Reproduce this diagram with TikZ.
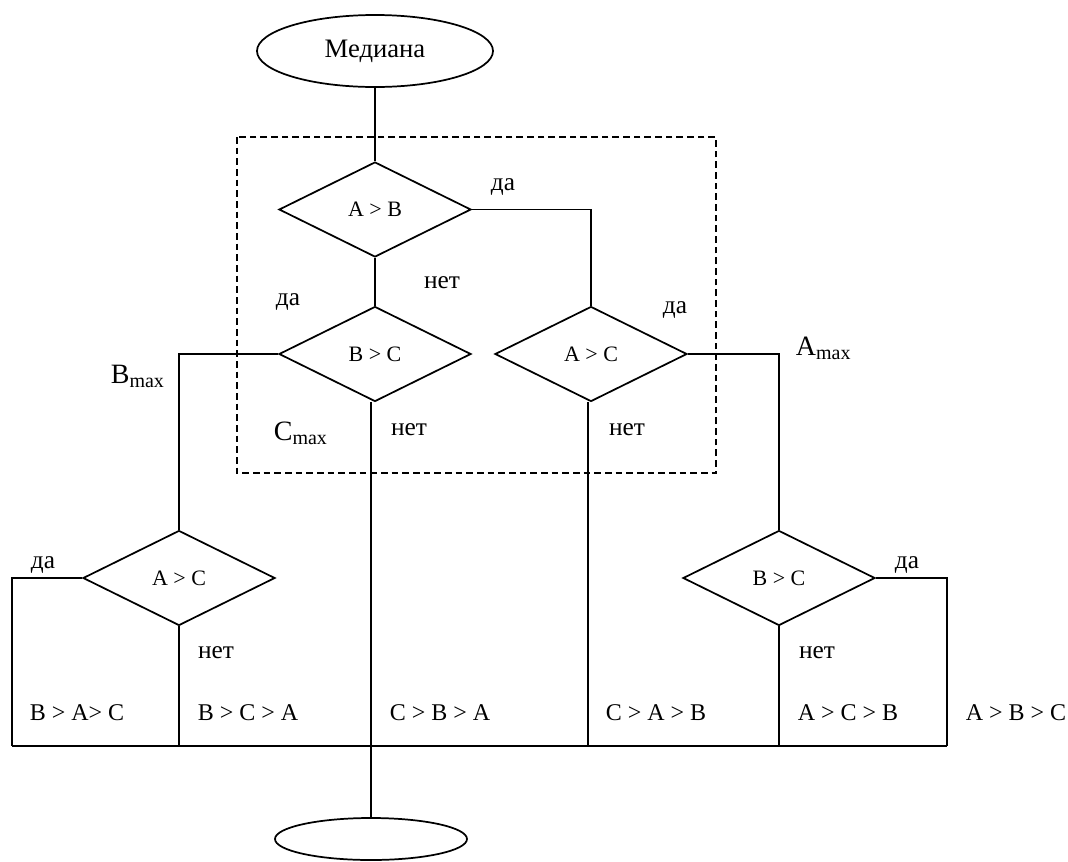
\documentclass[tikz,border=0pt]{standalone}
\usepackage{fontspec}
\setmainfont{Liberation Serif}
\usetikzlibrary{shapes.geometric}
\newcommand\maxlbl[1]{{\fontsize{21}{22}\selectfont #1}\raisebox{-3.5pt}{\fontsize{15}{16}\selectfont max}}
\begin{document}
\begin{tikzpicture}[x=0.75pt,y=-0.75pt,
  line width=1.3pt,
  dec/.style={draw, diamond, minimum width=144pt, minimum height=71.25pt, inner sep=0pt, font=\fontsize{16.5}{18}\selectfont},
  term/.style={draw, ellipse, inner sep=0pt},
  lbl/.style={font=\fontsize{19}{20}\selectfont, inner sep=0pt},
  res/.style={font=\fontsize{18}{20}\selectfont, inner sep=0pt, anchor=base},
  mx/.style={inner sep=0pt, anchor=base west},
  frame/.style={dash pattern=on 5pt off 3pt, line width=1pt}
]
\useasboundingbox (0,0) rectangle (1068,861);

\draw[frame] (237,137) rectangle (716,473);

\node[term, minimum width=177pt, minimum height=54pt, font=\fontsize{20}{22}\selectfont] (start) at (375,51) {Медиана};
\node[dec] (d1) at (375,209.5) {A > B};
\node[dec] (d2) at (375,354) {B > C};
\node[dec] (d3) at (591,354) {A > C};
\node[dec] (d4) at (179,578) {A > C};
\node[dec] (d5) at (779,578) {B > C};
\node[term, minimum width=144pt, minimum height=31.5pt] (end) at (371,839) {};

\coordinate (bl) at (12,746);
\coordinate (br) at (947,746);
\coordinate (m1) at (588,746);
\coordinate (m4) at (179,746);
\coordinate (m5) at (779,746);

\draw (start.south) -- (d1.north);
\draw (d1.south) -- (d2.north);
\draw (d1.east) -| (d3.north);
\draw (d2.west) -| (d4.north);
\draw (d3.east) -| (d5.north);
\draw (d4.west) -| (bl);
\draw (d5.east) -| (br);
\draw (d4.south) -- (m4);
\draw (d5.south) -- (m5);
\draw (bl) -- (br);
\draw (d3.south -| m1) -- (m1);
\draw (d2.south -| end.north) -- (end.north);

\node[lbl] (y1) at (503,187) {да};
\node[lbl] (n1) at (442,283) {нет};
\node[lbl] (y2) at (288,302) {да};
\node[lbl] (y3) at (675,310) {да};
\node[lbl] (n2) at (409,430) {нет};
\node[lbl] (n3) at (627,430) {нет};
\node[lbl] (y4) at (43,565) {да};
\node[lbl] (n4) at (216,653) {нет};
\node[lbl] (y5) at (907,565) {да};
\node[lbl] (n5) at (817,653) {нет};

\node[mx] (amax) at (795,355) {\maxlbl{A}};
\node[mx] (bmax) at (110,383) {\maxlbl{B}};
\node[mx] (cmax) at (273,440) {\maxlbl{C}};

\node[res] (r1) at (77,720) {B > A> C};
\node[res] (r2) at (248,720) {B > C > A};
\node[res] (r3) at (440,720) {C > B > A};
\node[res] (r4) at (656,720) {C > A > B};
\node[res] (r5) at (848,720) {A > C > B};
\node[res] (r6) at (1016,720) {A > B > C};
\end{tikzpicture}
\end{document}
